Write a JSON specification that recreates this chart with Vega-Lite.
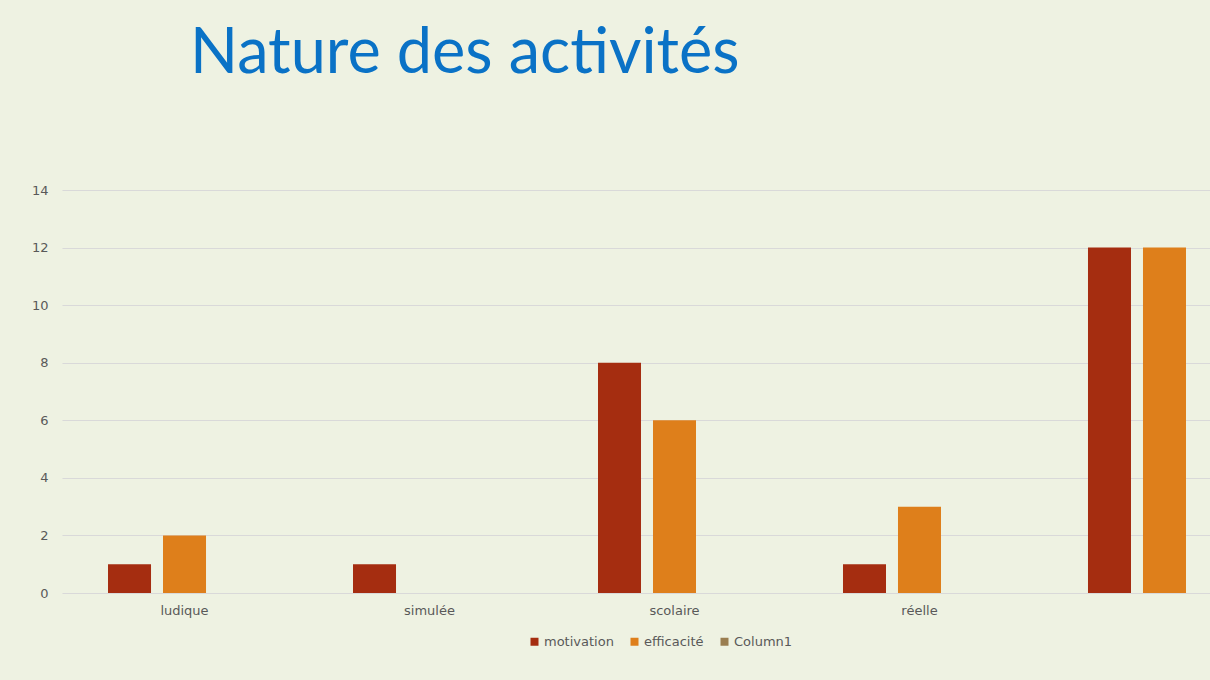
{
  "$schema": "https://vega.github.io/schema/vega-lite/v6.json",
  "autosize": "none",
  "width": 1133,
  "height": 403,
  "padding": {"left": 62, "top": 190, "right": 15, "bottom": 87},
  "background": "#eef2e2",
  "title": {
    "text": "Nature des activités",
    "anchor": "start",
    "frame": "group",
    "orient": "top",
    "offset": 0,
    "baseline": "alphabetic",
    "dx": 128,
    "dy": -48,
    "font": "Lato",
    "fontSize": 63,
    "fontWeight": "normal",
    "color": "#0a72c6"
  },
  "data": {
    "values": [
      {"categorie": "ludique", "serie": "motivation", "valeur": 1},
      {"categorie": "ludique", "serie": "efficacité", "valeur": 2},
      {"categorie": "ludique", "serie": "Column1", "valeur": null},
      {"categorie": "simulée", "serie": "motivation", "valeur": 1},
      {"categorie": "simulée", "serie": "efficacité", "valeur": 0},
      {"categorie": "simulée", "serie": "Column1", "valeur": null},
      {"categorie": "scolaire", "serie": "motivation", "valeur": 8},
      {"categorie": "scolaire", "serie": "efficacité", "valeur": 6},
      {"categorie": "scolaire", "serie": "Column1", "valeur": null},
      {"categorie": "réelle", "serie": "motivation", "valeur": 1},
      {"categorie": "réelle", "serie": "efficacité", "valeur": 3},
      {"categorie": "réelle", "serie": "Column1", "valeur": null},
      {"categorie": " ", "serie": "motivation", "valeur": 12},
      {"categorie": " ", "serie": "efficacité", "valeur": 12},
      {"categorie": " ", "serie": "Column1", "valeur": null}
    ]
  },
  "mark": {"type": "bar", "clip": false},
  "encoding": {
    "x": {
      "field": "categorie",
      "type": "nominal",
      "scale": {"domain": ["ludique", "simulée", "scolaire", "réelle", " "], "range": [0, 1225], "paddingInner": 0.3755, "paddingOuter": 0.1878},
      "axis": {
        "title": null,
        "labelAngle": 0,
        "labelFont": "DejaVu Sans",
        "labelFontSize": 13,
        "labelColor": "#595959",
        "labelPadding": 11,
        "ticks": false,
        "domain": false,
        "grid": false
      }
    },
    "xOffset": {
      "field": "serie",
      "type": "nominal",
      "scale": {"domain": ["motivation", "efficacité", "Column1"], "paddingInner": 0.218, "paddingOuter": 0}
    },
    "y": {
      "field": "valeur",
      "type": "quantitative",
      "scale": {"domain": [0, 14], "nice": false},
      "axis": {
        "title": null,
        "values": [0, 2, 4, 6, 8, 10, 12, 14],
        "labelFont": "DejaVu Sans",
        "labelFontSize": 13,
        "labelColor": "#595959",
        "labelPadding": 14,
        "ticks": false,
        "domain": false,
        "grid": true,
        "gridColor": "#d9d9d9",
        "gridWidth": 1
      }
    },
    "color": {
      "field": "serie",
      "type": "nominal",
      "scale": {"domain": ["motivation", "efficacité", "Column1"], "range": ["#a52d10", "#de7f1b", "#9a7e50"]},
      "legend": {
        "title": null,
        "orient": "none",
        "direction": "horizontal",
        "legendX": 466,
        "legendY": 445,
        "symbolType": "square",
        "symbolSize": 64,
        "symbolStrokeWidth": 0,
        "labelFont": "DejaVu Sans",
        "labelFontSize": 13,
        "labelColor": "#595959",
        "labelOffset": 3,
        "columnPadding": 14
      }
    }
  },
  "config": {"view": {"stroke": null}}
}
